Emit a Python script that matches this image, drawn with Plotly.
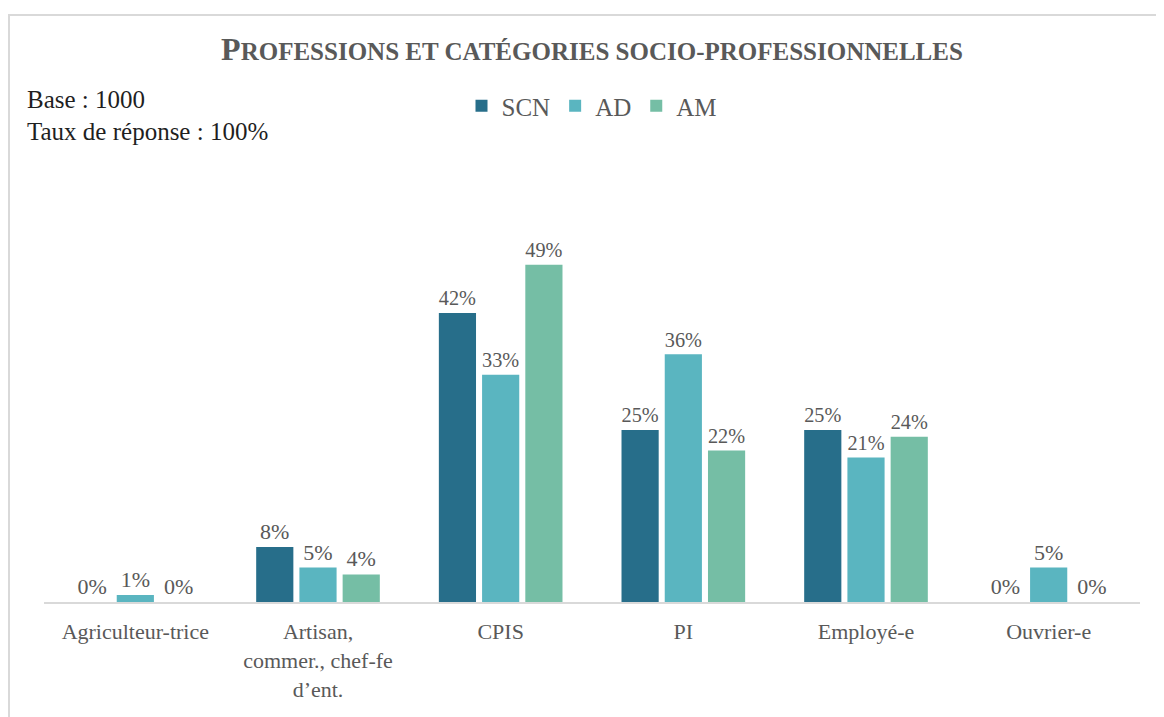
import plotly.graph_objects as go

categories = ["Agriculteur-trice", "Artisan,<br>commer., chef-fe<br>d\u2019ent.", "CPIS", "PI", "Employ\u00e9-e", "Ouvrier-e"]
scn = [0, 8, 42, 25, 25, 0]
ad = [1, 5, 33, 36, 21, 5]
am = [0, 4, 49, 22, 24, 0]
series = [("SCN", scn, "#276E8A"), ("AD", ad, "#5AB5C0"), ("AM", am, "#75BEA5")]

FONT = "Liberation Serif"
GRAY = "#595959"

fig = go.Figure()
for name, vals, col in series:
    fig.add_trace(go.Bar(
        name=name, x=categories, y=[v / 100 for v in vals],
        marker=dict(color=col, line=dict(width=0)),
        text=[f"{v}%" for v in vals], textposition="outside",
        textfont=dict(family=FONT, size=22, color=GRAY),
        cliponaxis=False,
    ))

# page body has an 8px margin, so the figure sits at (8, 8)
OFF = 8
W, H = 1164 - OFF, 717 - OFF
L, R = 44 - OFF, 24
B = H - (602 - OFF)
T = (602 - OFF) - 413
ph = H - T - B
pw = W - L - R

def px(x):
    return (x - OFF - L) / pw

def py(y):
    return (H - B - (y - OFF)) / ph

fig.update_layout(
    width=W, height=H,
    margin=dict(l=L, r=R, t=T, b=B),
    paper_bgcolor="white", plot_bgcolor="white",
    barmode="group", bargap=0.29, bargroupgap=0.14,
    font=dict(family=FONT, color=GRAY, size=22),
    title=dict(
        text="<b><span style='font-size:32px'>P</span>ROFESSIONS ET CAT\u00c9GORIES SOCIO-PROFESSIONNELLES</b>",
        x=0.5, xref="paper", y=1 - (51 - OFF) / H, yanchor="middle",
        font=dict(family=FONT, size=25, color=GRAY),
    ),
    legend=dict(
        orientation="h", x=0.5, xanchor="center", xref="paper",
        y=py(106), yanchor="middle",
        font=dict(family=FONT, size=25, color=GRAY),
        itemwidth=30, tracegroupgap=0,
    ),
    xaxis=dict(
        showline=True, linecolor="#D9D9D9", linewidth=2,
        ticks="", tickfont=dict(family=FONT, size=22, color=GRAY),
        ticklabelstandoff=9,
        showgrid=False,
    ),
    yaxis=dict(range=[0, 0.6], visible=False, showgrid=False),
    annotations=[
        dict(text="Base : 1000", xref="paper", yref="paper", x=px(25), y=py(100),
             xanchor="left", yanchor="middle", showarrow=False,
             font=dict(family=FONT, size=25, color="#1f1f1f")),
        dict(text="Taux de r\u00e9ponse : 100%", xref="paper", yref="paper", x=px(25), y=py(132),
             xanchor="left", yanchor="middle", showarrow=False,
             font=dict(family=FONT, size=25, color="#1f1f1f")),
    ],
    shapes=[
        dict(type="line", xref="paper", yref="paper", x0=px(8), x1=px(1170), y0=py(15), y1=py(15),
             line=dict(color="#D9D9D9", width=2)),
        dict(type="line", xref="paper", yref="paper", x0=px(9), x1=px(9), y0=py(15), y1=py(720),
             line=dict(color="#D9D9D9", width=2)),
    ],
)

fig.write_html("out.html")
